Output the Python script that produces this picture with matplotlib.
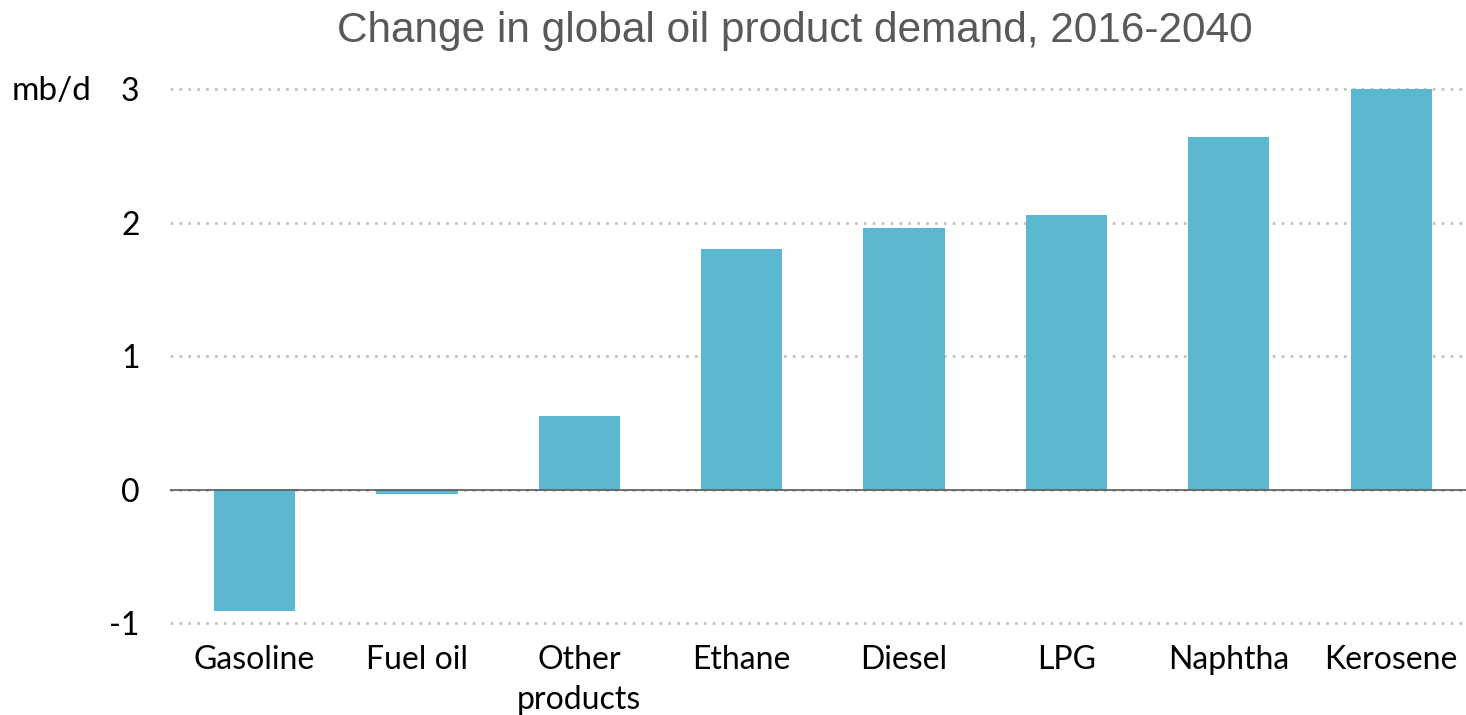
import matplotlib.pyplot as plt
import numpy as np

# Change in global oil product demand, 2016-2040 (mb/d)
products = ["Gasoline", "Fuel oil", "Other\nproducts", "Ethane", "Diesel",
            "LPG", "Naphtha", "Kerosene"]
change = [-0.91, -0.03, 0.55, 1.80, 1.96, 2.06, 2.64, 3.00]
yticks = [-1, 0, 1, 2, 3]

bar_color = "#5bb8d0"
label_font = "Lato"

fig = plt.figure(figsize=(14.66, 7.15), dpi=100)
ax = fig.add_axes([0.116, 0.125, 0.884, 0.754])

x = np.arange(len(products))
ax.bar(x, change, width=0.5, color=bar_color, zorder=3)

# dotted gridlines and solid zero line
ax.set_ylim(-1.02, 3.02)
ax.set_xlim(-0.52, len(products) - 0.54)
ax.set_yticks(yticks)
ax.set_yticklabels([str(t) for t in yticks], fontsize=23, family=label_font)
ax.yaxis.grid(True, linestyle=(0, (1, 2.2)), color="#c4c4c4", linewidth=2)
ax.axhline(0, color="#595959", linewidth=1.2, zorder=4)

ax.set_xticks(x)
ax.set_xticklabels(products, fontsize=23, family=label_font, linespacing=1.4)
ax.tick_params(axis="both", length=0)
ax.tick_params(axis="x", pad=14)
ax.tick_params(axis="y", pad=22)

for side in ["top", "right", "left", "bottom"]:
    ax.spines[side].set_visible(False)

fig.text(0.542, 0.956, "Change in global oil product demand, 2016-2040",
         ha="center", va="center", fontsize=30.5, color="#595959",
         family="Liberation Sans")
fig.text(0.008, 0.873, "mb/d", ha="left", va="center", fontsize=24,
         family=label_font)

fig.savefig("out.png", dpi=100)
